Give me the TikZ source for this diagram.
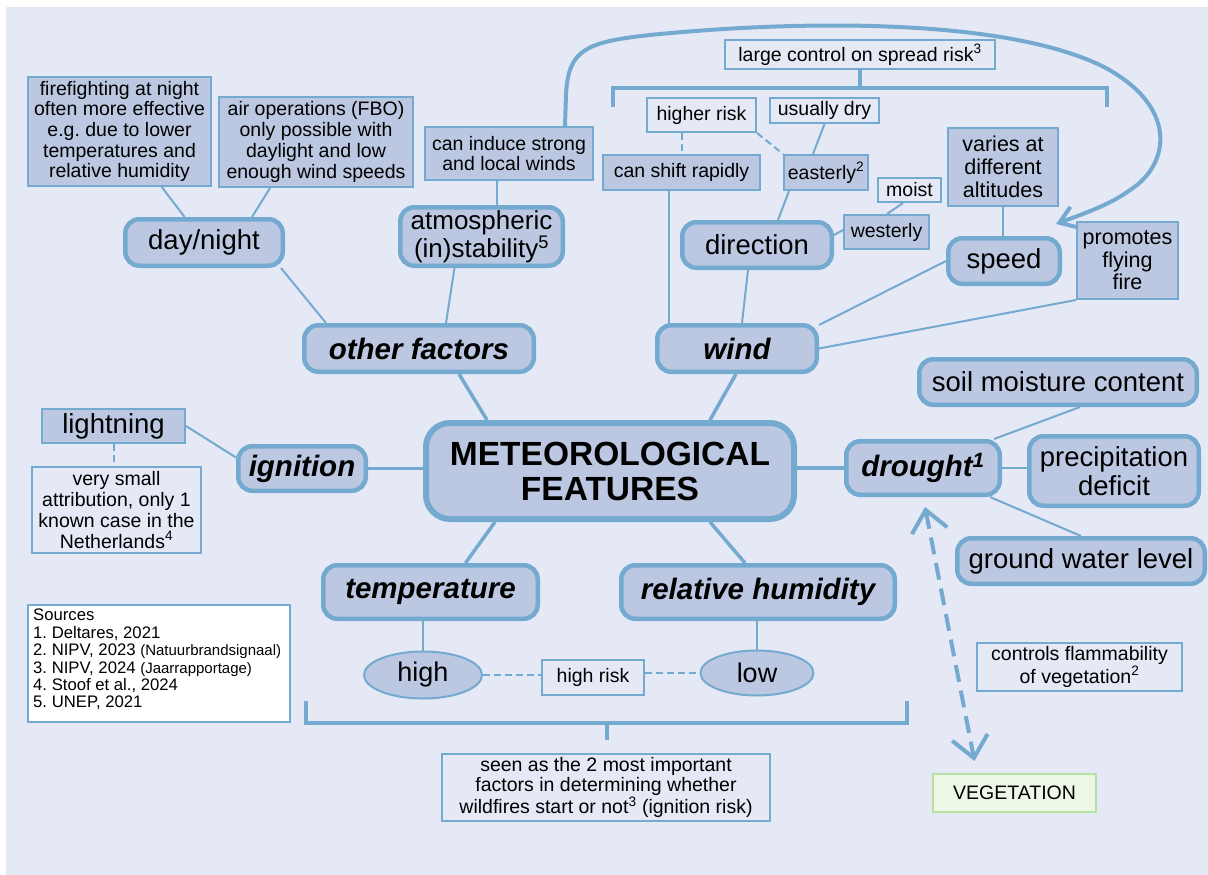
\documentclass[tikz,border=0pt]{standalone}
\usepackage{fontspec}
\setmainfont{Liberation Sans}
\usetikzlibrary{arrows.meta,calc,shapes.geometric}

\definecolor{bgc}{HTML}{E5E8F5}
\definecolor{fillc}{HTML}{BCC8E1}
\definecolor{linec}{HTML}{74AAD0}
\definecolor{vegfill}{HTML}{EDF7E5}
\definecolor{vegline}{HTML}{B5E2A3}

\newcommand{\fsz}[2]{\fontsize{#1}{#2}\selectfont}

\tikzset{
  every node/.style={inner sep=0pt, align=center, text=black},
  sz/.style 2 args={minimum width=#1pt, minimum height=#2pt},
  topic/.style={draw=linec, fill=fillc, line width=4.5pt, rounded corners=14pt, font=\fsz{27.5}{29}},
  keytopic/.style={topic, font=\fsz{29.5}{31}\bfseries\itshape},
  note/.style={draw=linec, fill=fillc, line width=2pt, font=\fsz{19.5}{20.7}},
  plain/.style={draw=linec, line width=2pt, font=\fsz{19.5}{20.7}},
  oval/.style={draw=linec, fill=fillc, line width=2pt, ellipse, font=\fsz{27}{29}},
  link/.style={draw=linec, line width=2pt},
  mainlink/.style={draw=linec, line width=3.5pt},
  dlink/.style={link, dash pattern=on 7pt off 4pt},
  brace/.style={draw=linec, line width=4pt},
  barb/.tip={Straight Barb[length=16pt,width=22pt]},
  widebarb/.tip={Straight Barb[length=21pt,width=36pt]},
}

\begin{document}
\frenchspacing
\begin{tikzpicture}[x=1pt,y=-1pt]
\useasboundingbox (0,0) rectangle (1208,875);
\fill[white] (0,0) rectangle (1208,875);
\fill[bgc] (6,7) rectangle (1208,875);

% central theme
\node[draw=linec, fill=fillc, line width=6pt, rounded corners=24pt, sz={368}{96},
      font=\fsz{33.5}{35}\bfseries] (center) at (610,471) {METEOROLOGICAL\\FEATURES};

% main factors
\node[keytopic, sz={229.5}{46.5}] (otherf) at (419,348.5) {other factors};
\node[keytopic, sz={159.5}{46.5}] (wind) at (737,348.5) {wind};
\node[keytopic, sz={127.5}{44.5}] (ignition) at (302,468.5) {ignition};
\node[keytopic, sz={153.5}{53.5}] (drought) at (923,468) {drought\textsuperscript{1}};
\node[keytopic, sz={214.5}{53.5}] (temp) at (430.5,592) {temperature};
\node[keytopic, sz={273.5}{53.5}] (rh) at (758,592) {relative humidity};

% sub factors
\node[topic, sz={157.5}{46.5}] (daynight) at (204,242.5) {day/night};
\node[topic, sz={162.5}{58.5}, font=\fsz{26}{28}] (atmos) at (481.5,236.5) {atmospheric\\(in)stability\textsuperscript{5}};
\node[topic, sz={149.5}{45.5}] (direction) at (757,245) {direction};
\node[topic, sz={111.5}{45.5}] (speed) at (1004,261) {speed};
\node[topic, sz={277.5}{45.5}] (soil) at (1058,382) {soil moisture content};
\node[topic, sz={169.5}{69.5}] (precip) at (1114,471) {precipitation\\deficit};
\node[topic, sz={247.5}{45.5}] (ground) at (1081,561) {ground water level};
\node[oval, minimum width=118pt, minimum height=47pt] (high) at (423,675) {high};
\node[oval, minimum width=113pt, minimum height=45pt] (low) at (757,673) {low};

% filled notes
\node[note, sz={183}{109}] (firef) at (119.5,131.5) {firefighting at night\\often more effective\\e.g. due to lower\\temperatures and\\relative humidity};
\node[note, sz={194}{90}] (airops) at (316,142) {air operations (FBO)\\only possible with\\daylight and low\\enough wind speeds};
\node[note, sz={168}{53}] (induce) at (509,153.5) {can induce strong\\and local winds};
\node[note, sz={157}{35}] (shift) at (681.5,172.5) {can shift rapidly};
\node[note, sz={84}{35}] (easterly) at (826,172.5) {easterly\textsuperscript{2}};
\node[note, sz={85}{34}] (westerly) at (886.5,232) {westerly};
\node[note, sz={110}{78}, font=\fsz{21.5}{23}] (varies) at (1003,167) {varies at\\different\\altitudes};
\node[note, sz={101}{77}, font=\fsz{21.5}{22.5}] (promotes) at (1127.5,260.5) {promotes\\flying\\fire};
\node[note, sz={143}{34}, font=\fsz{27.5}{29}] (lightning) at (113.5,426) {lightning};

% outlined notes
\node[plain, sz={270}{29}] (large) at (860,54.5) {large control on spread risk\textsuperscript{3}};
\node[plain, sz={109}{34}] (higher) at (701.5,115) {higher risk};
\node[plain, sz={109}{25}] (usually) at (824.5,110.5) {usually dry};
\node[plain, sz={63}{24}] (moist) at (909.5,190) {moist};
\node[plain, sz={169}{86}] (attribution) at (116.5,510) {very small\\attribution, only 1\\known case in the\\Netherlands\textsuperscript{4}};
\node[plain, sz={102}{35}] (highrisk) at (593,677.5) {high risk};
\node[plain, sz={328}{67}] (seen) at (606,787.5) {seen as the 2 most important\\factors in determining whether\\wildfires start or not\textsuperscript{3} (ignition risk)};
\node[plain, sz={205}{48}] (controls) at (1079.5,667) {controls flammability\\of vegetation\textsuperscript{2}};
\node[draw=vegline, fill=vegfill, line width=2pt, sz={163}{38}, font=\fsz{19.5}{21}] (vegetation) at (1014.5,793) {VEGETATION};

% sources list
\node[draw=linec, fill=white, line width=2pt, anchor=north west, sz={262}{117}] (sources) at (27,604) {};
\node[anchor=north west, align=left, font=\fsz{16.7}{17.4}] (srctext) at ($(sources.north west)+(6,5)$)
  {Sources\\
   1. Deltares, 2021\\
   2. NIPV, 2023 {\fsz{15}{17.4}(Natuurbrandsignaal)}\\
   3. NIPV, 2024 {\fsz{15}{17.4}(Jaarrapportage)}\\
   4. Stoof et al., 2024\\
   5. UNEP, 2021};

% other factors branch
\draw[link] (firef) -- (daynight);
\draw[link] ($(airops.south)+(-46,0)$) -- ($(daynight.north)+(48,0)$);
\draw[link] ($(daynight.south east)+(-4,0)$) -- ($(otherf.north west)+(24,0)$);
\draw[link] ($(atmos.south)+(-27,0)$) -- ($(otherf.north)+(27,0)$);
\draw[link] ($(atmos.north)+(15.5,0)$) -- ($(induce.south)+(-12,0)$);
\draw[mainlink] ($(otherf.south)+(40,0)$) -- ($(center.north west)+(64,0)$);

% wind branch
\draw[mainlink] ($(center.north east)+(-87,0)$) -- ($(wind.south)+(-1,0)$);
\draw[link] ($(shift.south)+(-12.5,0)$) -- ($(wind.north)+(-68,0)$);
\draw[link] ($(direction.south)+(-9,0)$) -- ($(wind.north)+(5,0)$);
\draw[link] ($(easterly.south)+(-37,0)$) -- ($(direction.north)+(21,0)$);
\draw[link] (usually.south) -- ($(easterly.north)+(-13,0)$);
\draw[dlink] (higher.south east) -- (easterly.north west);
\draw[dlink] (shift.north |- higher.south) -- (shift.north);
\draw[link] ($(moist.south)+(-6.5,0)$) -- ($(westerly.north)+(0.5,0)$);
\draw[link] ($(direction.east)+(0,-10)$) -- ($(westerly.west)+(0,-2)$);
\draw[link] (varies.south) -- (varies.south |- speed.north);
\draw[link] (speed.west) -- ($(wind.north east)+(0,2)$);
\draw[link] (promotes.south west) -- (wind.east);

% bracket over the wind notes
\coordinate (brT) at (860,88);
\draw[brace] (large.south) -- (large.south |- brT);
\draw[brace] ($(brT)+(-247,19)$) -- ++(0,-19) -- ++(494,0) -- ++(0,19);

% curved arrow from the local winds note to speed
\draw[brace, -barb] ($(induce.north east)+(-29,0)$) -- (566,95)
  .. controls (568,50) and (585,42) .. (650,35)
  .. controls (800,20) and (1000,18) .. (1100,65)
  .. controls (1180,105) and (1170,165) .. (1130,190)
  .. controls (1110,205) and (1080,215) .. ($(speed.north east)+(-6,-12)$);

% ignition branch
\draw[mainlink] (ignition.east) -- (ignition.east -| center.west);
\draw[link] (lightning.east) -- ($(ignition.west)+(0,-11)$);
\draw[dlink] (lightning.south) -- (lightning.south |- attribution.north);

% temperature and humidity branch
\draw[mainlink] ($(center.south west)+(72,0)$) -- ($(temp.north)+(35,0)$);
\draw[mainlink] ($(center.south east)+(-87,0)$) -- ($(rh.north)+(-13,0)$);
\draw[link] (high.north) -- (high.north |- temp.south);
\draw[link] (low.north) -- (low.north |- rh.south);
\draw[dlink] (high.east) -- (high.east -| highrisk.west);
\draw[dlink] (low.west -| highrisk.east) -- (low.west);
\coordinate (brB) at (606.5,723);
\draw[brace] ($(brB)+(-300.5,-22)$) -- ++(0,22) -- ++(601,0) -- ++(0,-22);
\draw[brace] (brB) -- ($(seen.north)+(0.5,-13)$);

% drought branch
\draw[mainlink] (drought.west -| center.east) -- (drought.west);
\draw[link] ($(drought.north east)+(-8,0)$) -- ($(soil.south)+(22,0)$);
\draw[link] (drought.east) -- (drought.east -| precip.west);
\draw[link] ($(drought.south east)+(-12,0)$) -- (ground.north);
\draw[brace, dash pattern=on 17pt off 9pt, widebarb-widebarb]
  ($(drought.south)+(2,10)$) -- ($(vegetation.north)+(-40,-12)$);
\end{tikzpicture}
\end{document}
